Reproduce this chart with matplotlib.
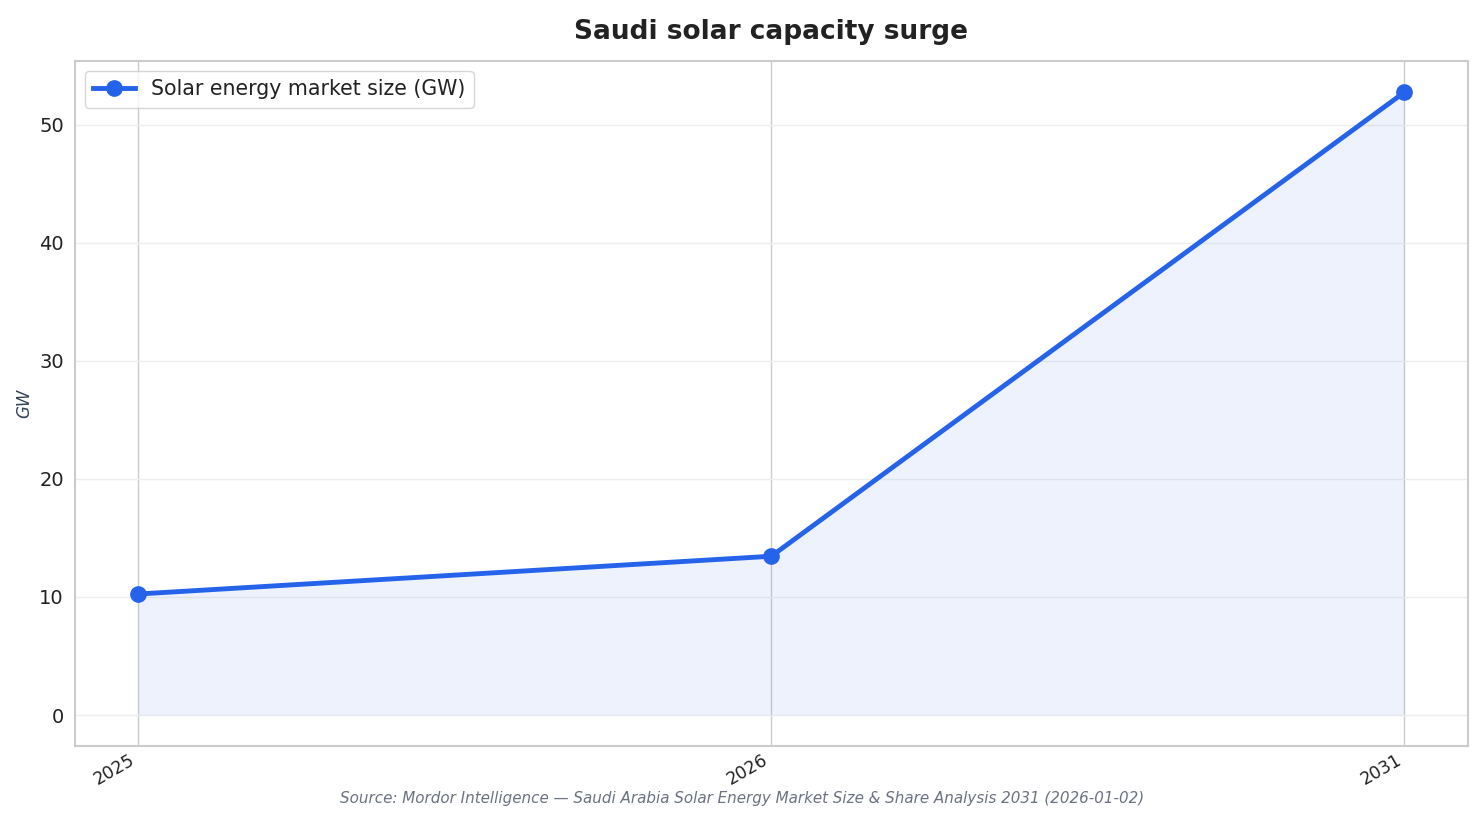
import matplotlib.pyplot as plt

years = ["2025", "2026", "2031"]
capacity_gw = [10.25, 13.45, 52.75]

series_label = "Solar energy market size (GW)"
line_color = "#2563eb"

fig, ax = plt.subplots(figsize=(14.84, 8.24), dpi=100)
fig.subplots_adjust(left=0.0505, right=0.989, top=0.926, bottom=0.095)

x = list(range(len(years)))
ax.fill_between(x, capacity_gw, 0, color=line_color, alpha=0.08, linewidth=0)
ax.plot(x, capacity_gw, color=line_color, linewidth=3.5, marker="o",
        markersize=11, label=series_label, zorder=3)

ax.set_xticks(x)
ax.set_xticklabels(years, rotation=30, ha="right", fontsize=12.5, color="#222222")
ax.set_xlim(-0.1, 2.1)
ax.set_ylim(-2.6, 55.4)
ax.set_yticks([0, 10, 20, 30, 40, 50])
ax.tick_params(axis="y", labelsize=14, colors="#222222", length=0, pad=8)
ax.tick_params(axis="x", length=0, pad=4)

ax.grid(axis="y", color="#eeeeee", linewidth=1)
ax.grid(axis="x", color="#cccccc", linewidth=1)
ax.set_axisbelow(True)
for s in ax.spines.values():
    s.set_color("#cccccc")
    s.set_linewidth(1.5)

ax.set_ylabel("GW", fontsize=12, style="italic", color="#334155", labelpad=4)
ax.set_title("Saudi solar capacity surge", fontsize=19, fontweight="bold",
             color="#222222", pad=16)
leg = ax.legend(loc="upper left", fontsize=14.8, frameon=True, edgecolor="#cccccc",
                handlelength=2, borderpad=0.4)
for t in leg.get_texts():
    t.set_color("#222222")

fig.text(0.5, 0.026, "Source: Mordor Intelligence \u2014 Saudi Arabia Solar Energy Market Size & Share Analysis 2031 (2026-01-02)",
         ha="center", fontsize=10.9, style="italic", color="#6b7280")

fig.savefig("out.png", dpi=100)
